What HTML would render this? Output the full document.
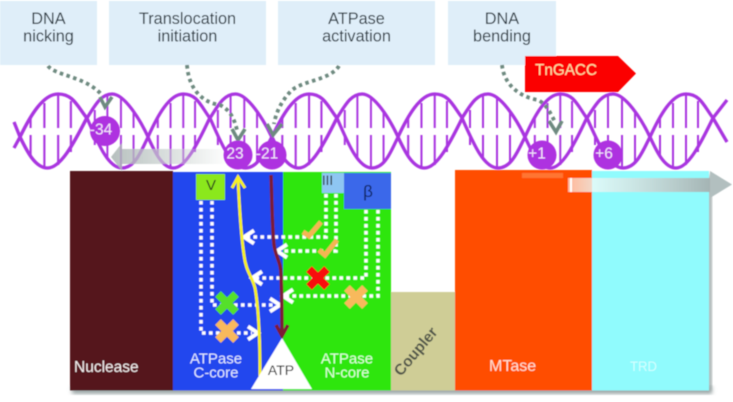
<!DOCTYPE html>
<html><head><meta charset="utf-8"><style>
html,body{margin:0;padding:0;background:#fff}
svg{display:block;font-family:"Liberation Sans",sans-serif}
</style></head><body>
<svg width="733" height="402" viewBox="0 0 733 402" xmlns="http://www.w3.org/2000/svg">
<defs>
<filter id="bl" x="-5%" y="-5%" width="110%" height="110%"><feGaussianBlur stdDeviation="0.45"/></filter>
<filter id="sh" x="-5%" y="-10%" width="110%" height="120%"><feGaussianBlur stdDeviation="2"/></filter>
<linearGradient id="ga" x1="0" x2="1" y1="0" y2="0"><stop offset="0" stop-color="#a9b4b2"/><stop offset="0.5" stop-color="#c8d0ce" stop-opacity="0.8"/><stop offset="1" stop-color="#c8d0ce" stop-opacity="0.05"/></linearGradient>
<linearGradient id="gb" x1="0" x2="1" y1="0" y2="0"><stop offset="0" stop-color="#fff" stop-opacity="0.6"/><stop offset="0.17" stop-color="#eefaf8" stop-opacity="0.8"/><stop offset="1" stop-color="#a4b4b4"/></linearGradient>
<g id="la" fill="none" stroke="#a935e0">
<path d="M0,137C10,115 22,94 36,94S54,106 63,118" stroke-width="3.300"/>
<path d="M0,137C6,150 14,168 26,168S50,145 63,118" stroke-width="3.300"/>
<path d="M10,117V128M23,103V128M36,95V128M48,101V128M10,135V157M23,135V167M36,135V165M48,135V152" stroke-width="2"/>
</g>
<g id="lb" fill="none" stroke="#a935e0">
<path d="M0,118C8,106 14,94 26,94S54,118 63,137" stroke-width="3.300"/>
<path d="M0,118C12,145 22,168 36,168S56,150 63,137" stroke-width="3.300"/>
<path d="M8,110V128M21,96V128M35,98V128M48,112V128M8,135V145M21,135V160M35,135V167M48,135V162" stroke-width="2"/>
</g>
<path id="chev" d="M-9,-6.500L1,0L-9,6.500" fill="none" stroke="#fff" stroke-width="3.800"/>
</defs>
<g filter="url(#bl)">
<!-- callouts -->
<g fill="#dfeef9">
<rect x="0" y="1" width="97" height="64"/>
<rect x="109" y="1" width="157" height="64"/>
<rect x="278" y="1" width="157" height="64"/>
<rect x="448" y="1" width="108" height="64"/>
</g>
<g font-size="16.300" fill="#22303a" text-anchor="middle">
<text x="48.500" y="24">DNA</text><text x="48.500" y="41.500">nicking</text>
<text x="187.500" y="24">Translocation</text><text x="187.500" y="41.500">initiation</text>
<text x="356.500" y="24">ATPase</text><text x="356.500" y="41.500">activation</text>
<text x="502" y="24">DNA</text><text x="502" y="41.500">bending</text>
</g>
<!-- TnGACC -->
<path d="M525,56H618L636,73.500L618,92H525Z" fill="#fb0202"/>
<text x="535" y="75" font-size="15.500" fill="#fbe3a8" textLength="62" lengthAdjust="spacingAndGlyphs">TnGACC</text>
<!-- panels shadow -->
<rect x="72" y="386" width="640" height="8" fill="#9aa5a5" filter="url(#sh)"/>
<rect x="707" y="175" width="5" height="215" fill="#9aa5a5" filter="url(#sh)"/>
<!-- panels -->
<rect x="70" y="171" width="103" height="219.500" fill="#54141a"/>
<rect x="173" y="172" width="110" height="218.500" fill="#2146ee"/>
<rect x="283" y="172" width="108" height="218.500" fill="#2fe60c"/>
<rect x="391" y="292" width="64" height="98.500" fill="#cfcd96"/>
<rect x="455" y="170" width="137" height="220.500" fill="#ff4d00"/>
<rect x="592" y="171" width="117" height="219.500" fill="#90fbfd"/>
<rect x="522" y="173" width="41" height="5" fill="#ff7430"/>
<rect x="196" y="174" width="29" height="26" fill="#8be81e"/>
<rect x="322" y="173" width="22" height="20" fill="#8ec6f2"/>
<rect x="344" y="173" width="47" height="36" fill="#3a68ea"/>
<text x="206" y="190" font-size="15" fill="#26301c">V</text>
<text x="322" y="185" font-size="14" fill="#222" textLength="11" lengthAdjust="spacingAndGlyphs">III</text>
<text x="368" y="197" font-size="17" fill="#10205a" text-anchor="middle">β</text>
<!-- dotted paths -->
<g fill="none" stroke="#fff" stroke-width="3.500" stroke-dasharray="3.500 3.500">
<path d="M201,201V333H252"/>
<path d="M212,201V305H276"/>
<path d="M326,194V237H247"/>
<path d="M336,194V251H280"/>
<path d="M366,210V278H254"/>
<path d="M378,210V296H286"/>
</g>
<use href="#chev" transform="translate(257,333)"/>
<use href="#chev" transform="translate(279,305)"/>
<use href="#chev" transform="translate(245,237) scale(-1,1)"/>
<use href="#chev" transform="translate(278,251) scale(-1,1)"/>
<use href="#chev" transform="translate(253,278) scale(-1,1)"/>
<use href="#chev" transform="translate(284,296) scale(-1,1)"/>
<!-- yellow + red lines -->
<path d="M238,179C239,200 241,235 244,255C246,272 252,276 255,288C259,310 260,350 260,376" fill="none" stroke="#f6f024" stroke-width="3"/>
<path d="M232,188L238,177L245,188" fill="none" stroke="#f6f024" stroke-width="3"/>
<path d="M271,175C272,200 272,225 274,245C276,258 281,262 281,275C282,295 282,315 282,336" fill="none" stroke="#7c1a34" stroke-width="3.500"/>
<path d="M276,325L282,336L288,325" fill="none" stroke="#7c1a34" stroke-width="3.500"/>
<!-- triangle -->
<path d="M282,338L312,389H251Z" fill="#fff"/>
<!-- marks -->
<g fill="none" stroke-width="8">
<path d="M218,294L236,312M236,294L218,312" stroke="#55e02a"/>
<path d="M218,322L236,340M236,322L218,340" stroke="#f8b95c"/>
<path d="M309,269L327,287M327,269L309,287" stroke="#f80808"/>
<path d="M347,288L365,306M365,288L347,306" stroke="#f8b95c"/>
</g>
<g fill="none" stroke="#f4b552" stroke-width="5">
<path d="M303,232L309,236L321,222"/>
<path d="M319,250L325,255L337,240"/>
</g>
<!-- panel text -->
<text x="74" y="372" font-size="15.500" fill="#f4eeee">Nuclease</text>
<g font-size="15" text-anchor="middle" fill="#e0e8ff">
<text x="216" y="363.500">ATPase</text><text x="216" y="377.500">C-core</text>
</g>
<g font-size="15" text-anchor="middle" fill="#e0ffd8">
<text x="347" y="363.500">ATPase</text><text x="347" y="377.500">N-core</text>
</g>
<text x="281" y="375" fill="#111" text-anchor="middle" font-size="14">ATP</text>
<text x="489" y="371" font-size="16" fill="#ffe0d0">MTase</text>
<text x="630" y="371" font-size="14" fill="#d4ffff" textLength="27" lengthAdjust="spacingAndGlyphs">TRD</text>
<text x="0" y="0" transform="translate(401,377) rotate(-50)" font-size="15.500" font-weight="bold" fill="#50554a" textLength="58" lengthAdjust="spacingAndGlyphs">Coupler</text>
<!-- helix -->
<use href="#la" transform="translate(20,0) scale(1.06,1)"/>
<use href="#lb" transform="translate(87,0) scale(0.97,1)"/>
<use href="#la" transform="translate(148,0) scale(0.98,1)"/>
<use href="#lb" transform="translate(210,0) scale(0.98,1)"/>
<use href="#la" transform="translate(272,0) scale(1.03,1)"/>
<use href="#lb" transform="translate(337,0) scale(0.97,1)"/>
<use href="#la" transform="translate(398,0) scale(1.02,1)"/>
<use href="#lb" transform="translate(462,0)"/>
<use href="#la" transform="translate(525,0) scale(0.98,1)"/>
<use href="#lb" transform="translate(587,0)"/>
<use href="#la" transform="translate(650,0)"/>
<path d="M14,122L20,137L14,148" fill="none" stroke="#a935e0" stroke-width="3.300"/>
<path d="M713,118L727,100M713,118L727,142" fill="none" stroke="#a935e0" stroke-width="3.300"/>
<!-- gray arrows -->
<path d="M111,157L122,143V149H225V164H122V171Z" fill="url(#ga)" opacity="0.85"/>
<path d="M568,178H710V192H568Z" fill="url(#gb)"/>
<path d="M710,171L732,184.500L710,198Z" fill="#b2bfbf"/>
<rect x="570" y="178" width="2" height="14" fill="#fff"/>
<!-- dotted gray -->
<g fill="none" stroke="#6e8a80" stroke-width="3.800" stroke-dasharray="3.500 3.500">
<path d="M48,66C56,76 85,76 102,95"/>
<path d="M187,65C189,92 205,103 220,105C230,110 234,118 237,130"/>
<path d="M339,66C330,80 305,80 292,90C282,100 276,112 274,124"/>
<path d="M502,65C504,85 520,97 538,100C546,104 550,112 555,122"/>
</g>
<g fill="none" stroke="#6e8a80" stroke-width="3.500">
<path d="M100,97L105,107L112,97"/>
<path d="M232,129L238,140L245,129"/>
<path d="M267,124L273,135L282,124"/>
<path d="M549,121L556,132L562,121"/>
</g>
<!-- circles -->
<g fill="#ae30e0">
<circle cx="105" cy="131" r="15"/>
<circle cx="238" cy="155" r="14.500"/>
<circle cx="272" cy="155" r="14.500"/>
<circle cx="542" cy="155" r="14.500"/>
<circle cx="608" cy="155" r="14.500"/>
</g>
<g font-size="15.500" fill="#f6e6fb" text-anchor="middle">
<text x="101" y="134.500">-34</text>
<text x="235" y="158.500">23</text>
<text x="267" y="158.500">-21</text>
<text x="537" y="158.500">+1</text>
<text x="604" y="158.500">+6</text>
</g>
</g>
</svg>
</body></html>
